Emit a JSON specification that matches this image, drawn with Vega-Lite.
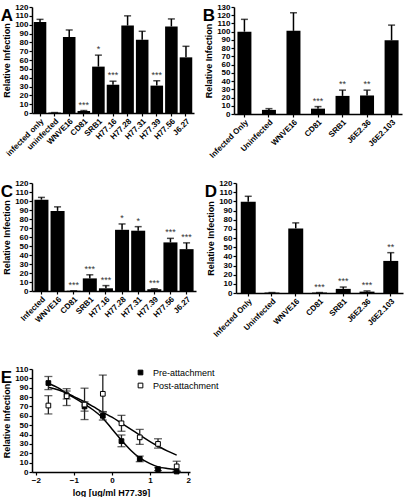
{
  "$schema": "https://vega.github.io/schema/vega-lite/v6.json",
  "background": "white",
  "padding": {"left": 0, "top": 2, "right": 2, "bottom": 0},
  "spacing": 26,
  "vconcat": [
    {
      "spacing": 19,
      "vconcat": [
        {
          "spacing": 8,
          "hconcat": [
            {
              "width": 162, "height": 106,
              "title": {"text": "A"},
              "data": {"values": [
                {"label": "infected only", "value": 103, "hi": 106, "sig": ""},
                {"label": "uninfected", "value": 0.5, "hi": 0.5, "sig": ""},
                {"label": "WNVE16", "value": 86, "hi": 94, "sig": ""},
                {"label": "CD81", "value": 2.3, "hi": 2.8, "sig": "***"},
                {"label": "SRB1", "value": 52.5, "hi": 65.5, "sig": "*"},
                {"label": "H77.16", "value": 32, "hi": 36, "sig": "***"},
                {"label": "H77.28", "value": 99, "hi": 110, "sig": ""},
                {"label": "H77.31", "value": 83, "hi": 92.5, "sig": ""},
                {"label": "H77.39", "value": 31, "hi": 36.5, "sig": "***"},
                {"label": "H77.56", "value": 98, "hi": 106.5, "sig": ""},
                {"label": "J6.27", "value": 63, "hi": 75.5, "sig": ""}
              ]},
              "encoding": {"x": {"field": "label", "type": "nominal", "sort": null, "scale": {"paddingInner": 0.14, "paddingOuter": 0.12}, "axis": {"title": null, "labelAngle": -45}}},
              "layer": [
                {"mark": {"type": "bar", "color": "black"}, "encoding": {"y": {"field": "value", "type": "quantitative", "scale": {"domain": [0, 120], "nice": false}, "axis": {"title": "Relative  Infection", "values": [0,10,20,30,40,50,60,70,80,90,100,110,120]}}}},
                {"mark": {"type": "rule", "color": "black", "strokeWidth": 1.5}, "encoding": {"y": {"field": "value", "type": "quantitative", "scale": {"domain": [0, 120], "nice": false}, "axis": {"title": "Relative  Infection", "values": [0,10,20,30,40,50,60,70,80,90,100,110,120]}}, "y2": {"field": "hi"}}},
                {"mark": {"type": "tick", "color": "black", "thickness": 1.5, "size": 7}, "encoding": {"y": {"field": "hi", "type": "quantitative", "scale": {"domain": [0, 120], "nice": false}, "axis": {"title": "Relative  Infection", "values": [0,10,20,30,40,50,60,70,80,90,100,110,120]}}}},
                {"mark": {"type": "text", "baseline": "alphabetic", "dy": -3, "fontSize": 9, "color": "#333"}, "encoding": {"y": {"field": "hi", "type": "quantitative", "scale": {"domain": [0, 120], "nice": false}, "axis": {"title": "Relative  Infection", "values": [0,10,20,30,40,50,60,70,80,90,100,110,120]}}, "text": {"field": "sig"}}}
              ]
            },
            {
              "width": 168, "height": 107,
              "title": {"text": "B"},
              "data": {"values": [
                {"label": "Infected Only", "value": 100, "hi": 115, "sig": ""},
                {"label": "Uninfected", "value": 5, "hi": 6.5, "sig": ""},
                {"label": "WNVE16", "value": 101, "hi": 123, "sig": ""},
                {"label": "CD81", "value": 6.5, "hi": 9, "sig": "***"},
                {"label": "SRB1", "value": 22, "hi": 29, "sig": "**"},
                {"label": "J6E2.36", "value": 22.5, "hi": 29, "sig": "**"},
                {"label": "J6E2.103", "value": 89.5, "hi": 108, "sig": ""}
              ]},
              "encoding": {"x": {"field": "label", "type": "nominal", "sort": null, "scale": {"paddingInner": 0.43, "paddingOuter": 0.14}, "axis": {"title": null, "labelAngle": -45}}},
              "layer": [
                {"mark": {"type": "bar", "color": "black"}, "encoding": {"y": {"field": "value", "type": "quantitative", "scale": {"domain": [0, 130], "nice": false}, "axis": {"title": "Relative  Infection", "values": [0,10,20,30,40,50,60,70,80,90,100,110,120,130]}}}},
                {"mark": {"type": "rule", "color": "black", "strokeWidth": 1.5}, "encoding": {"y": {"field": "value", "type": "quantitative", "scale": {"domain": [0, 130], "nice": false}, "axis": {"title": "Relative  Infection", "values": [0,10,20,30,40,50,60,70,80,90,100,110,120,130]}}, "y2": {"field": "hi"}}},
                {"mark": {"type": "tick", "color": "black", "thickness": 1.5, "size": 7}, "encoding": {"y": {"field": "hi", "type": "quantitative", "scale": {"domain": [0, 130], "nice": false}, "axis": {"title": "Relative  Infection", "values": [0,10,20,30,40,50,60,70,80,90,100,110,120,130]}}}},
                {"mark": {"type": "text", "baseline": "alphabetic", "dy": -3, "fontSize": 9, "color": "#333"}, "encoding": {"y": {"field": "hi", "type": "quantitative", "scale": {"domain": [0, 130], "nice": false}, "axis": {"title": "Relative  Infection", "values": [0,10,20,30,40,50,60,70,80,90,100,110,120,130]}}, "text": {"field": "sig"}}}
              ]
            }
          ]
        },
        {
          "spacing": 8,
          "hconcat": [
            {
              "width": 164, "height": 108,
              "title": {"text": "C"},
              "data": {"values": [
                {"label": "Infected", "value": 101.5, "hi": 104, "sig": ""},
                {"label": "WNVE16", "value": 89, "hi": 93.5, "sig": ""},
                {"label": "CD81", "value": 0.3, "hi": 0.3, "sig": "***"},
                {"label": "SRB1", "value": 14, "hi": 18, "sig": "***"},
                {"label": "H77.16", "value": 3, "hi": 6, "sig": "***"},
                {"label": "H77.28", "value": 68, "hi": 74.5, "sig": "*"},
                {"label": "H77.31", "value": 67, "hi": 71.5, "sig": "*"},
                {"label": "H77.39", "value": 2, "hi": 2.5, "sig": "***"},
                {"label": "H77.56", "value": 54, "hi": 58.5, "sig": "***"},
                {"label": "J6.27", "value": 46.5, "hi": 53.5, "sig": "***"}
              ]},
              "encoding": {"x": {"field": "label", "type": "nominal", "sort": null, "scale": {"paddingInner": 0.13, "paddingOuter": 0.15}, "axis": {"title": null, "labelAngle": -45}}},
              "layer": [
                {"mark": {"type": "bar", "color": "black"}, "encoding": {"y": {"field": "value", "type": "quantitative", "scale": {"domain": [0, 120], "nice": false}, "axis": {"title": "Relative  Infection", "values": [0,10,20,30,40,50,60,70,80,90,100,110,120]}}}},
                {"mark": {"type": "rule", "color": "black", "strokeWidth": 1.5}, "encoding": {"y": {"field": "value", "type": "quantitative", "scale": {"domain": [0, 120], "nice": false}, "axis": {"title": "Relative  Infection", "values": [0,10,20,30,40,50,60,70,80,90,100,110,120]}}, "y2": {"field": "hi"}}},
                {"mark": {"type": "tick", "color": "black", "thickness": 1.5, "size": 7}, "encoding": {"y": {"field": "hi", "type": "quantitative", "scale": {"domain": [0, 120], "nice": false}, "axis": {"title": "Relative  Infection", "values": [0,10,20,30,40,50,60,70,80,90,100,110,120]}}}},
                {"mark": {"type": "text", "baseline": "alphabetic", "dy": -3, "fontSize": 9, "color": "#333"}, "encoding": {"y": {"field": "hi", "type": "quantitative", "scale": {"domain": [0, 120], "nice": false}, "axis": {"title": "Relative  Infection", "values": [0,10,20,30,40,50,60,70,80,90,100,110,120]}}, "text": {"field": "sig"}}}
              ]
            },
            {
              "width": 167, "height": 110,
              "title": {"text": "D"},
              "data": {"values": [
                {"label": "Infected Only", "value": 99.5, "hi": 105.5, "sig": ""},
                {"label": "Uninfected", "value": 0.5, "hi": 0.5, "sig": ""},
                {"label": "WNVE16", "value": 70.5, "hi": 76.5, "sig": ""},
                {"label": "CD81", "value": 0.5, "hi": 0.5, "sig": "***"},
                {"label": "SRB1", "value": 4.5, "hi": 6.5, "sig": "***"},
                {"label": "J6E2.36", "value": 1.5, "hi": 2.3, "sig": "***"},
                {"label": "J6E2.103", "value": 35, "hi": 44, "sig": "**"}
              ]},
              "encoding": {"x": {"field": "label", "type": "nominal", "sort": null, "scale": {"paddingInner": 0.37, "paddingOuter": 0.2}, "axis": {"title": null, "labelAngle": -45}}},
              "layer": [
                {"mark": {"type": "bar", "color": "black"}, "encoding": {"y": {"field": "value", "type": "quantitative", "scale": {"domain": [0, 120], "nice": false}, "axis": {"title": "Relative  Infection", "values": [0,10,20,30,40,50,60,70,80,90,100,110,120]}}}},
                {"mark": {"type": "rule", "color": "black", "strokeWidth": 1.5}, "encoding": {"y": {"field": "value", "type": "quantitative", "scale": {"domain": [0, 120], "nice": false}, "axis": {"title": "Relative  Infection", "values": [0,10,20,30,40,50,60,70,80,90,100,110,120]}}, "y2": {"field": "hi"}}},
                {"mark": {"type": "tick", "color": "black", "thickness": 1.5, "size": 7}, "encoding": {"y": {"field": "hi", "type": "quantitative", "scale": {"domain": [0, 120], "nice": false}, "axis": {"title": "Relative  Infection", "values": [0,10,20,30,40,50,60,70,80,90,100,110,120]}}}},
                {"mark": {"type": "text", "baseline": "alphabetic", "dy": -3, "fontSize": 9, "color": "#333"}, "encoding": {"y": {"field": "hi", "type": "quantitative", "scale": {"domain": [0, 120], "nice": false}, "axis": {"title": "Relative  Infection", "values": [0,10,20,30,40,50,60,70,80,90,100,110,120]}}, "text": {"field": "sig"}}}
              ]
            }
          ]
        }
      ]
    },
    {
      "width": 158, "height": 103,
      "title": {"text": "E"},
      "layer": [
        {
          "data": {"values": [
            {"x": -1.67, "y": 94.5, "series": "Pre-attachment"},
            {"x": -1.4, "y": 89.5, "series": "Pre-attachment"},
            {"x": -1.2, "y": 84, "series": "Pre-attachment"},
            {"x": -1.0, "y": 79.5, "series": "Pre-attachment"},
            {"x": -0.72, "y": 72.5, "series": "Pre-attachment"},
            {"x": -0.5, "y": 66.5, "series": "Pre-attachment"},
            {"x": -0.25, "y": 58, "series": "Pre-attachment"},
            {"x": 0.0, "y": 46, "series": "Pre-attachment"},
            {"x": 0.25, "y": 34, "series": "Pre-attachment"},
            {"x": 0.5, "y": 23, "series": "Pre-attachment"},
            {"x": 0.73, "y": 15, "series": "Pre-attachment"},
            {"x": 1.0, "y": 9, "series": "Pre-attachment"},
            {"x": 1.22, "y": 5.5, "series": "Pre-attachment"},
            {"x": 1.45, "y": 3.8, "series": "Pre-attachment"},
            {"x": 1.7, "y": 2.8, "series": "Pre-attachment"},
            {"x": -1.67, "y": 90.5, "series": "Post-attachment"},
            {"x": -1.4, "y": 87.5, "series": "Post-attachment"},
            {"x": -1.2, "y": 84.5, "series": "Post-attachment"},
            {"x": -1.0, "y": 80.5, "series": "Post-attachment"},
            {"x": -0.72, "y": 75, "series": "Post-attachment"},
            {"x": -0.5, "y": 70, "series": "Post-attachment"},
            {"x": -0.25, "y": 64, "series": "Post-attachment"},
            {"x": 0.0, "y": 58.5, "series": "Post-attachment"},
            {"x": 0.25, "y": 52, "series": "Post-attachment"},
            {"x": 0.5, "y": 45.5, "series": "Post-attachment"},
            {"x": 0.73, "y": 39.5, "series": "Post-attachment"},
            {"x": 1.0, "y": 32.5, "series": "Post-attachment"},
            {"x": 1.22, "y": 27.5, "series": "Post-attachment"},
            {"x": 1.45, "y": 22.5, "series": "Post-attachment"},
            {"x": 1.7, "y": 18, "series": "Post-attachment"}
          ]},
          "mark": {"type": "line", "color": "black", "strokeWidth": 1.5, "interpolate": "monotone"},
          "encoding": {
            "x": {"field": "x", "type": "quantitative", "scale": {"domain": [-2.1, 2.05], "nice": false}, "axis": {"title": "log [ug/ml H77.39]", "values": [-2, -1, 0, 1, 2], "titlePadding": 4}},
            "y": {"field": "y", "type": "quantitative", "scale": {"domain": [0, 110], "nice": false}, "axis": {"title": "Relative  Infection", "values": [0,10,20,30,40,50,60,70,80,90,100,110]}},
            "detail": {"field": "series"}
          }
        },
        {
          "data": {"values": [
            {"x": -1.67, "mean": 95, "lo": 88, "hi": 102, "series": "Pre-attachment"},
            {"x": -1.19, "mean": 82, "lo": 78, "hi": 86.5, "series": "Pre-attachment"},
            {"x": -0.72, "mean": 70, "lo": 65, "hi": 75, "series": "Pre-attachment"},
            {"x": -0.24, "mean": 60, "lo": 55.5, "hi": 64.5, "series": "Pre-attachment"},
            {"x": 0.25, "mean": 33, "lo": 27, "hi": 39.5, "series": "Pre-attachment"},
            {"x": 0.73, "mean": 14, "lo": 11, "hi": 17, "series": "Pre-attachment"},
            {"x": 1.21, "mean": 3, "lo": 1.5, "hi": 4.5, "series": "Pre-attachment"},
            {"x": 1.7, "mean": 0.5, "lo": 0, "hi": 1, "series": "Pre-attachment"},
            {"x": -1.67, "mean": 71, "lo": 62, "hi": 81.5, "series": "Post-attachment"},
            {"x": -1.19, "mean": 81, "lo": 71, "hi": 89, "series": "Post-attachment"},
            {"x": -0.72, "mean": 72, "lo": 56, "hi": 89.5, "series": "Post-attachment"},
            {"x": -0.24, "mean": 83.5, "lo": 64, "hi": 103.5, "series": "Post-attachment"},
            {"x": 0.25, "mean": 52, "lo": 43.5, "hi": 60.5, "series": "Post-attachment"},
            {"x": 0.73, "mean": 37, "lo": 29.5, "hi": 45.5, "series": "Post-attachment"},
            {"x": 1.21, "mean": 30, "lo": 25.5, "hi": 35.5, "series": "Post-attachment"},
            {"x": 1.7, "mean": 6, "lo": 0.5, "hi": 11.5, "series": "Post-attachment"}
          ]},
          "layer": [
            {"mark": {"type": "rule", "color": "#222", "strokeWidth": 1.3}, "encoding": {
              "x": {"field": "x", "type": "quantitative", "scale": {"domain": [-2.1, 2.05], "nice": false}, "axis": {"title": "log [ug/ml H77.39]", "values": [-2, -1, 0, 1, 2], "titlePadding": 4}},
              "y": {"field": "lo", "type": "quantitative", "scale": {"domain": [0, 110], "nice": false}, "axis": {"title": "Relative  Infection", "values": [0,10,20,30,40,50,60,70,80,90,100,110]}},
              "y2": {"field": "hi"}}},
            {"mark": {"type": "tick", "orient": "horizontal", "color": "#222", "thickness": 1.3, "size": 8}, "encoding": {
              "x": {"field": "x", "type": "quantitative", "scale": {"domain": [-2.1, 2.05], "nice": false}, "axis": {"title": "log [ug/ml H77.39]", "values": [-2, -1, 0, 1, 2], "titlePadding": 4}},
              "y": {"field": "lo", "type": "quantitative", "scale": {"domain": [0, 110], "nice": false}, "axis": {"title": "Relative  Infection", "values": [0,10,20,30,40,50,60,70,80,90,100,110]}}}},
            {"mark": {"type": "tick", "orient": "horizontal", "color": "#222", "thickness": 1.3, "size": 8}, "encoding": {
              "x": {"field": "x", "type": "quantitative", "scale": {"domain": [-2.1, 2.05], "nice": false}, "axis": {"title": "log [ug/ml H77.39]", "values": [-2, -1, 0, 1, 2], "titlePadding": 4}},
              "y": {"field": "hi", "type": "quantitative", "scale": {"domain": [0, 110], "nice": false}, "axis": {"title": "Relative  Infection", "values": [0,10,20,30,40,50,60,70,80,90,100,110]}}}},
            {"mark": {"type": "point", "shape": "square", "filled": true, "size": 22, "stroke": "black", "strokeWidth": 1, "opacity": 1}, "encoding": {
              "x": {"field": "x", "type": "quantitative", "scale": {"domain": [-2.1, 2.05], "nice": false}, "axis": {"title": "log [ug/ml H77.39]", "values": [-2, -1, 0, 1, 2], "titlePadding": 4}},
              "y": {"field": "mean", "type": "quantitative", "scale": {"domain": [0, 110], "nice": false}, "axis": {"title": "Relative  Infection", "values": [0,10,20,30,40,50,60,70,80,90,100,110]}},
              "fill": {"field": "series", "type": "nominal", "scale": {"domain": ["Pre-attachment", "Post-attachment"], "range": ["black", "white"]},
                "legend": {"title": null, "orient": "none", "legendX": 104, "legendY": 361, "symbolType": "square", "symbolSize": 22, "symbolStrokeColor": "black", "symbolStrokeWidth": 1, "labelFontSize": 9, "labelFontWeight": "normal", "labelOffset": 8, "rowPadding": 3, "padding": 0}}
            }}
          ]
        }
      ]
    }
  ],
  "config": {
    "font": "Liberation Sans",
    "view": {"stroke": null},
    "title": {"anchor": "start", "frame": "bounds", "baseline": "top", "offset": -22, "dx": -2, "fontSize": 17, "fontWeight": "bold", "color": "black", "font": "Liberation Sans"},
    "axis": {"labelFont": "Liberation Sans", "labelFontWeight": "bold", "labelFontSize": 8, "labelColor": "black", "labelOverlap": false, "labelPadding": 1, "titleFont": "Liberation Sans", "titleFontWeight": "bold", "titleFontSize": 9, "titleColor": "black", "titlePadding": 3, "domainColor": "black", "domainWidth": 1.5, "tickColor": "black", "tickWidth": 1.2, "tickSize": 3, "grid": false},
    "legend": {"labelFont": "Liberation Sans", "labelColor": "black"}
  }
}
